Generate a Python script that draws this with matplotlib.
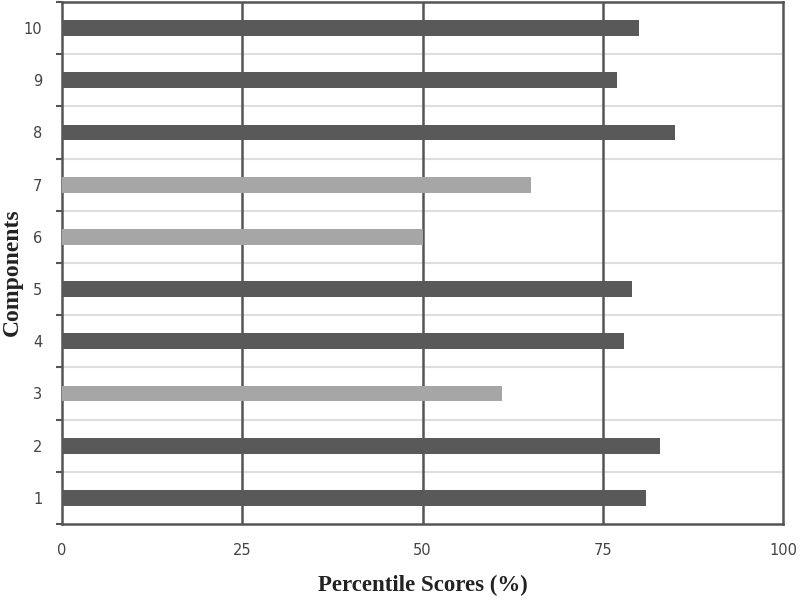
import matplotlib
matplotlib.use("Agg")
import matplotlib.pyplot as plt
import numpy as np

components = ["1", "2", "3", "4", "5", "6", "7", "8", "9", "10"]
scores = [81, 83, 61, 78, 79, 50, 65, 85, 77, 80]
highlight = [False, False, True, False, False, True, True, False, False, False]
x_ticks = [0, 25, 50, 75, 100]

dark = "#595959"
light = "#a6a6a6"

fig = plt.figure(figsize=(8, 6), dpi=100)
ax = fig.add_axes([62/800, 1 - 524/600, (783-62)/800, 522/600])

pos = np.arange(1, len(components) + 1)
colors = [light if h else dark for h in highlight]
ax.barh(pos, scores, height=0.3, color=colors, zorder=3)

ax.set_xlim(0, 100)
ax.set_ylim(0.5, len(components) + 0.5)
ax.set_xticks(x_ticks)
ax.set_xticklabels([str(t) for t in x_ticks])
ax.set_yticks(pos)
ax.set_yticklabels(components)
ax.set_yticks(np.arange(0.5, len(components) + 1, 1), minor=True)

for v in x_ticks[1:-1]:
    ax.axvline(v, color="#555555", lw=1.8, zorder=2)
for y in np.arange(1.5, len(components), 1):
    ax.axhline(y, color="#dedede", lw=1.5, zorder=1)

for s in ax.spines.values():
    s.set_color("#555555")
    s.set_linewidth(1.8)

ax.tick_params(axis="y", which="major", length=0, pad=14, labelsize=10.5, labelcolor="#444444")
ax.tick_params(axis="y", which="minor", length=4, width=1.5, color="#555555", direction="out")
ax.tick_params(axis="x", which="major", length=0, pad=14, labelsize=10.5, labelcolor="#444444")

fig.text(423/800, 1 - 585/600, "Percentile Scores (%)", family="Liberation Serif",
         fontweight="bold", fontsize=16.5, color="#222222", ha="center", va="center")
fig.text(12/800, 1 - 272/600, "Components", family="Liberation Serif",
         fontweight="bold", fontsize=17, color="#222222", ha="center", va="center",
         rotation=90)

fig.savefig("out.png", dpi=100)
